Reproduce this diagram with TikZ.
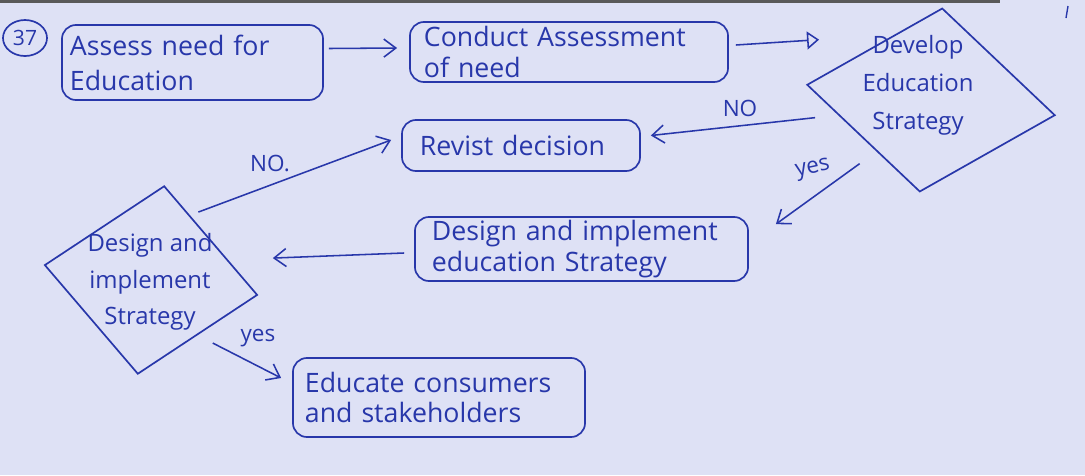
\documentclass[tikz,border=0pt]{standalone}
\usepackage{fontspec}
\setmainfont{Open Sans}
\usetikzlibrary{shapes.geometric,arrows.meta,calc}
\definecolor{ink}{RGB}{40,55,170}
\definecolor{paper}{RGB}{222,225,245}
\tikzset{
  procbox/.style={draw=ink, line width=1.2pt, rounded corners=3.5mm, align=left,
    inner ysep=0pt, text=ink, font=\fontsize{19}{22}\selectfont},
  decision/.style={draw=ink, line width=1.2pt, shape=diamond, inner sep=0pt},
  dectext/.style={text=ink, align=center, font=\fontsize{17}{27}\selectfont},
  flow/.style={draw=ink, line width=1.1pt, -{Straight Barb[length=3mm,width=4.5mm]}},
  lbl/.style={text=ink, font=\fontsize{16}{18}\selectfont}
}

\begin{document}
\begin{tikzpicture}[x=0.025cm, y=-0.025cm]
  \fill[paper] (0,0) rectangle (1085,475);
  \useasboundingbox (0,0) rectangle (1085,475);
  \fill[black!65] (0,0) rectangle (1000,3);
  \draw[ink, line width=1pt] (1068,6) -- (1066,18);

  % question number
  \node[ellipse, draw=ink, line width=1.2pt, minimum width=11mm, minimum height=9mm,
    inner sep=0pt, text=ink, font=\fontsize{15}{15}\selectfont] (num) at (25,38) {37};

  % process boxes
  \node[procbox, minimum height=18.75mm, text width=61.25mm, inner xsep=2mm,
    font=\fontsize{19}{25}\selectfont] (assess) at (192.5,62.5) {Assess need for\\Education};
  \node[procbox, minimum height=15mm, text width=72.5mm, inner xsep=3.5mm]
    (conduct) at (569,52) {Conduct Assessment\\of need};
  \node[procbox, minimum height=12.75mm, text width=50.5mm, inner xsep=4.5mm]
    (revist) at (521,145.5) {Revist decision};
  \node[procbox, minimum height=16mm, text width=74.75mm, inner xsep=4.25mm]
    (design) at (581.5,249) {Design and implement\\education Strategy};
  \node[procbox, minimum height=19.75mm, text width=67mm, inner xsep=3mm]
    (educate) at (439,397.5) {Educate consumers\\and stakeholders};

  % decisions
  \node[decision, rotate=-7, minimum width=62.5mm, minimum height=46.25mm] (dev) at (931,100) {};
  \node[dectext] (devtext) at (918,85) {Develop\\Education\\Strategy};
  \node[decision, rotate=-8, minimum width=53.75mm, minimum height=47.5mm] (dsn) at (151,280) {};
  \node[dectext, font=\fontsize{17}{26}\selectfont] (dsntext) at (150,282) {Design and\\implement\\Strategy};

  % connectors
  \draw[flow] ($(assess.east)+(5,-14)$) -- ($(conduct.west)+(-12,-4)$);
  \draw[flow, -{Triangle[open,length=3mm,width=4.5mm]}]
    ($(conduct.east)+(7,-7)$) -- ($(dev.west)+(13,-45)$);
  \draw[flow] ($(dev.west)+(9,33)$) -- ($(revist.east)+(10,-10)$);
  \draw[flow] ($(dev.south)+(-60,-29)$) -- ($(design.north east)+(27,8)$);
  \draw[flow] ($(design.west)+(-10,4)$) -- ($(dsn.east)+(14.5,-37)$);
  \draw[flow] ($(dsn.north)+(34,27)$) -- ($(revist.west)+(-10,-5.5)$);
  \draw[flow] ($(dsn.east)+(-45.5,48)$) -- ($(educate.west)+(-11,-19.5)$);

  % branch labels
  \node[lbl] (no1) at (740,108) {NO};
  \node[lbl, rotate=12] (yes1) at (813,170) {yes};
  \node[lbl] (no2) at (270,163) {NO.};
  \node[lbl] (yes2) at (258,338) {yes};
\end{tikzpicture}
\end{document}
